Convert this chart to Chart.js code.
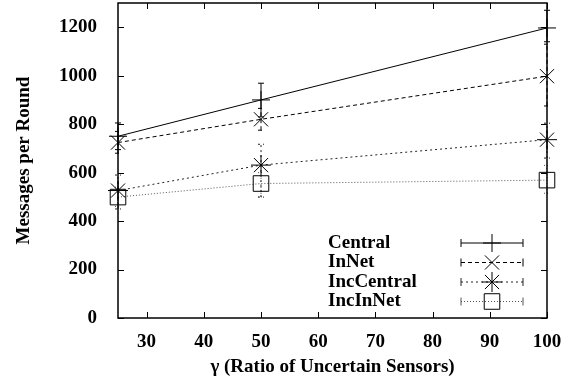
<!DOCTYPE html>
<html>
<head>
<meta charset="utf-8">
<script src="https://cdn.jsdelivr.net/npm/chart.js@4.4.1/dist/chart.umd.min.js"></script>
<style>
  html, body { margin: 0; padding: 0; background: #fff; }
</style>
</head>
<body>
<canvas id="chart" width="580" height="387"></canvas>
<script>
// values
const gammas = [25, 50, 100];
const central = [750, 900, 1197];
const inNet = [724, 820, 998];
const incCentral = [526, 631, 736];
const incInNet = [499, 555, 569];

// error bars [low, high]
const centralErr = [[695, 805], [830, 969], [1140, 1270]];
const inNetErr = [[680, 770], [775, 865], [875, 1130]];
const incCentralErr = [[450, 590], [499, 717], [660, 804]];
const incInNetErr = [[460, 540], [500, 600], [515, 630]];

const xTicks = [30, 40, 50, 60, 70, 80, 90, 100];
const yTicks = [0, 200, 400, 600, 800, 1000, 1200];
const seriesNames = ['Central', 'InNet', 'IncCentral', 'IncInNet'];

const serif = "'Liberation Serif', 'Times New Roman', serif";
const ctx = document.getElementById('chart').getContext('2d');

const pts = (ys) => ys.map((v, i) => ({ x: gammas[i], y: v }));

const styles = [
    { color: '#000', dash: [], point: 'cross', radius: 9 },
    { color: '#000', dash: [4, 3], point: 'crossRot', radius: 10 },
    { color: '#222', dash: [2, 3], point: 'star', radius: 10 },
    { color: '#555', dash: [1, 2], point: 'rect', radius: 11 },
];
const allErrs = [centralErr, inNetErr, incCentralErr, incInNetErr];
const allVals = [central, inNet, incCentral, incInNet];

const noPad = (s) => {
    s.paddingTop = 0; s.paddingBottom = 0;
    s.paddingLeft = 0; s.paddingRight = 0;
};

const frame = {
    id: 'frame',
    beforeDatasetsDraw(chart) {
        const { ctx, chartArea: a, scales: { x, y } } = chart;
        ctx.save();
        ctx.strokeStyle = '#000';
        ctx.lineWidth = 1;
        ctx.beginPath();
        xTicks.forEach(v => {
            const px = Math.round(x.getPixelForValue(v)) + 0.5;
            ctx.moveTo(px, a.bottom); ctx.lineTo(px, a.bottom - 6);
            ctx.moveTo(px, a.top); ctx.lineTo(px, a.top + 6);
        });
        yTicks.forEach(v => {
            const py = Math.round(y.getPixelForValue(v)) + 0.5;
            ctx.moveTo(a.left, py); ctx.lineTo(a.left + 6, py);
            ctx.moveTo(a.right, py); ctx.lineTo(a.right - 6, py);
        });
        ctx.stroke();

        // error bars
        allErrs.forEach((errs, i) => {
            const s = styles[i];
            ctx.strokeStyle = s.color;
            ctx.setLineDash(s.dash);
            ctx.beginPath();
            errs.forEach((e, j) => {
                const px = x.getPixelForValue(gammas[j]);
                const lo = y.getPixelForValue(e[0]);
                const hi = y.getPixelForValue(e[1]);
                ctx.moveTo(px, lo); ctx.lineTo(px, hi);
                ctx.moveTo(px - 3, lo); ctx.lineTo(px + 3, lo);
                ctx.moveTo(px - 3, hi); ctx.lineTo(px + 3, hi);
            });
            ctx.stroke();
        });
        ctx.restore();
    },
    afterDraw(chart) {
        const { ctx, chartArea: a } = chart;
        ctx.save();
        ctx.strokeStyle = '#000';
        ctx.lineWidth = 1.5;
        ctx.strokeRect(a.left, a.top, a.right - a.left, a.bottom - a.top);

        // key, bottom right
        ctx.font = 'bold 19px ' + serif;
        ctx.textBaseline = 'middle';
        ctx.textAlign = 'left';
        seriesNames.forEach((name, i) => {
            const s = styles[i];
            const ry = 243 + i * 19.5;
            ctx.fillStyle = '#000';
            ctx.fillText(name, 328, ry);
            ctx.strokeStyle = s.color;
            ctx.lineWidth = 1;
            ctx.setLineDash(s.dash);
            ctx.beginPath();
            ctx.moveTo(461, ry); ctx.lineTo(523, ry);
            ctx.stroke();
            ctx.setLineDash([]);
            ctx.beginPath();
            ctx.moveTo(461, ry - 4); ctx.lineTo(461, ry + 4);
            ctx.moveTo(523, ry - 4); ctx.lineTo(523, ry + 4);
            ctx.stroke();
            ctx.strokeStyle = '#000';
            ctx.fillStyle = 'rgba(0,0,0,0)';
            Chart.helpers.drawPoint(ctx, {
                pointStyle: s.point, radius: s.radius, borderWidth: 1
            }, 492, ry);
        });
        ctx.restore();
    }
};

const chart = new Chart(ctx, {
    type: 'line',
    data: {
        datasets: allVals.map((vals, i) => ({
            label: seriesNames[i],
            data: pts(vals),
            borderColor: styles[i].color,
            borderWidth: 1,
            borderDash: styles[i].dash,
            pointStyle: styles[i].point,
            pointRadius: styles[i].radius,
            pointBorderColor: '#000',
            pointBackgroundColor: 'rgba(0,0,0,0)',
            pointBorderWidth: 1,
            fill: false,
            tension: 0,
            clip: false,
        })),
    },
    options: {
        responsive: false,
        animation: false,
        events: [],
        layout: { autoPadding: false, padding: { top: 3, right: 33, left: 0, bottom: 0 } },
        plugins: { legend: { display: false }, tooltip: { enabled: false } },
        scales: {
            x: {
                type: 'linear', min: 25, max: 100,
                afterBuildTicks: (s) => { s.ticks = xTicks.map(v => ({ value: v })); },
                afterFit: (s) => { s.height = 69; noPad(s); },
                grid: { display: false },
                border: { display: false },
                ticks: {
                    color: '#000', padding: 5, maxRotation: 0,
                    callback: (v) => String(v),
                    font: { family: serif, weight: 'bold', size: 19 },
                },
                title: {
                    display: true, text: 'γ (Ratio of Uncertain Sensors)', color: '#000',
                    font: { family: serif, weight: 'bold', size: 19 },
                    padding: { top: 0, bottom: 9 },
                },
            },
            y: {
                type: 'linear', min: 0, max: 1300,
                afterBuildTicks: (s) => { s.ticks = yTicks.map(v => ({ value: v })); },
                afterFit: (s) => { s.width = 118; noPad(s); },
                grid: { display: false },
                border: { display: false },
                ticks: {
                    color: '#000', padding: 13,
                    callback: (v) => String(v),
                    font: { family: serif, weight: 'bold', size: 19 },
                },
                title: {
                    display: true, text: 'Messages per Round', color: '#000',
                    font: { family: serif, weight: 'bold', size: 19 },
                    padding: { top: 13, bottom: 0 },
                },
            },
        },
    },
    plugins: [frame],
});
</script>
</body>
</html>
